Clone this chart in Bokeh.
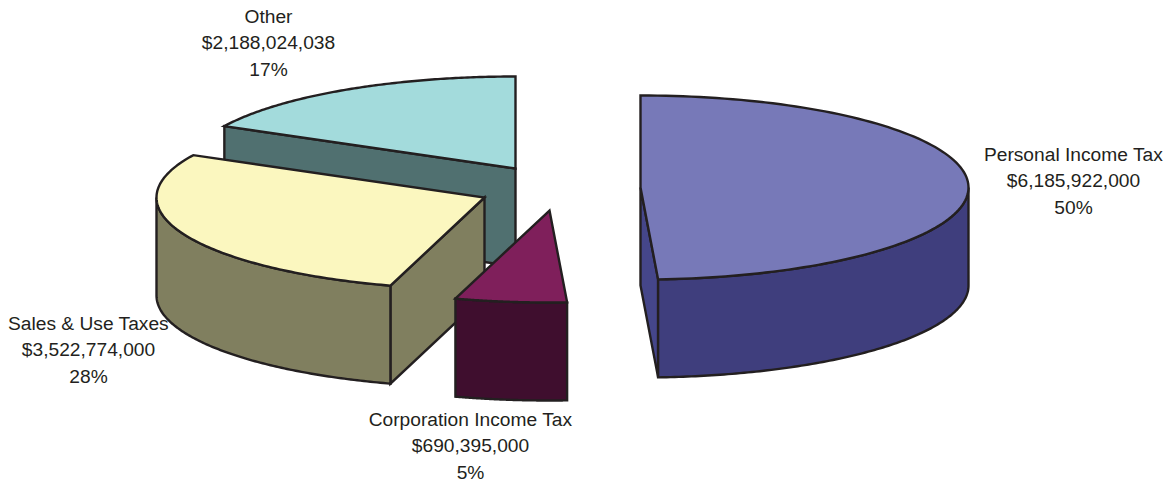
import numpy as np
from bokeh.embed import file_html
from bokeh.models import ColumnDataSource, Range1d
from bokeh.plotting import figure
from bokeh.resources import INLINE
from bokeh.core.properties import value

# Revenue sources, clockwise from twelve o'clock
categories = ["Personal Income Tax", "Corporation Income Tax", "Sales & Use Taxes", "Other"]
amounts = [6185922000, 690395000, 3522774000, 2188024038]
amount_labels = ["$6,185,922,000", "$690,395,000", "$3,522,774,000", "$2,188,024,038"]
percent_labels = ["50%", "5%", "28%", "17%"]

top_colors = ["#7779B8", "#7F1F5B", "#FBF7BF", "#A3DBDC"]
wall_colors = ["#3F3E7D", "#3F0E2E", "#807F5F", "#507070"]
cut_colors = ["#45468A", "#3F0E2E", "#807F5F", "#507070"]

# Pie geometry in screen pixels: exploded wedge tips and label anchors
tips_x = [640, 549, 484, 515]
tips_y = [187, 210, 197, 168]
label_x = [1073, 470, 88, 268]
label_y = [154, 419, 323, 16]
RX, RY, DEPTH = 328, 92, 98
LINE_STEP = 26.3
INK = "#231F20"

shares = np.array(amounts, dtype=float) / sum(amounts)
ends = np.cumsum(shares) * 2 * np.pi
starts = np.concatenate(([0.0], ends[:-1]))


def rim(cx, cy, a0, a1, n=120):
    t = np.linspace(a0, a1, n)
    return cx + RX * np.sin(t), cy - RY * np.cos(t)


p = figure(width=1169, height=485, output_backend="svg", toolbar_location=None,
           x_range=Range1d(0, 1169), y_range=Range1d(485, 0), min_border=0,
           x_axis_location=None, y_axis_location=None, background_fill_color="white",
           border_fill_color="white", outline_line_color=None)
p.grid.visible = False


def face(xs, ys, color):
    p.patch(list(xs), list(ys), fill_color=color, line_color=INK, line_width=2.4, line_join="miter")


def extruded_edge(x0, y0, x1, y1, color):
    face([x0, x1, x1, x0], [y0, y1, y1 + DEPTH, y0 + DEPTH], color)


def outer_wall(cx, cy, a0, a1, color):
    x, y = rim(cx, cy, a0, a1)
    face(np.concatenate((x, x[::-1])), np.concatenate((y, y[::-1] + DEPTH)), color)


def top_face(cx, cy, a0, a1, color):
    x, y = rim(cx, cy, a0, a1)
    face(np.concatenate(([cx], x)), np.concatenate(([cy], y)), color)


# Painter's order: back wedge first, front wedges over it
for i in (3, 2, 1, 0):
    cx, cy, a0, a1 = tips_x[i], tips_y[i], starts[i], ends[i]
    sx, sy = rim(cx, cy, a0, a0, 1)
    ex, ey = rim(cx, cy, a1, a1, 1)
    # Cut faces on the viewer's side of the wedge
    if i in (2, 3):
        extruded_edge(cx, cy, sx[0], sy[0], cut_colors[i])
    if i == 0:
        extruded_edge(cx, cy, ex[0], ey[0], cut_colors[i])
    # Only the lower half of the rim faces the viewer
    lo = max(a0, np.pi / 2)
    hi = min(a1, 3 * np.pi / 2)
    if hi > lo:
        outer_wall(cx, cy, lo, hi, wall_colors[i])
    top_face(cx, cy, a0, a1, top_colors[i])

# Three-line callout beside each wedge
tx, ty, tt = [], [], []
for i, name in enumerate(categories):
    for k, line in enumerate((name, amount_labels[i], percent_labels[i])):
        tx.append(label_x[i])
        ty.append(label_y[i] + k * LINE_STEP)
        tt.append(line)
p.text(x="x", y="y", text="t", source=ColumnDataSource(dict(x=tx, y=ty, t=tt)),
       text_font=value("Liberation Sans"), text_font_size="19.2px", text_color=INK,
       text_align="center", text_baseline="middle")

open("out.html", "w").write(file_html(p, INLINE))
